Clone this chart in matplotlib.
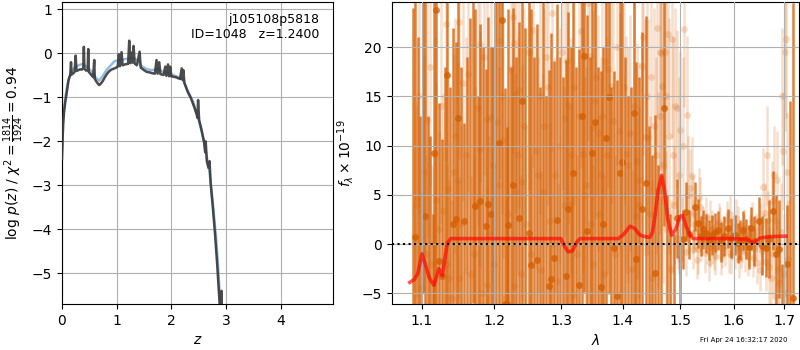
import matplotlib
matplotlib.use("Agg")
import matplotlib.pyplot as plt
from matplotlib.ticker import FixedLocator, FixedFormatter, NullLocator

# ---------------- left panel: log p(z) ----------------
z_pz = [0.00, 0.02, 0.04, 0.06, 0.08, 0.10, 0.12, 0.14, 0.15, 0.165, 0.175, 0.20, 0.23, 0.25, 0.265,
        0.30, 0.33, 0.36, 0.39, 0.40, 0.41, 0.44, 0.47, 0.48, 0.49, 0.53, 0.57, 0.59, 0.60, 0.64,
        0.68, 0.70, 0.74, 0.78, 0.82, 0.86, 0.90, 0.94, 0.98, 1.02, 1.04, 1.06, 1.09, 1.11, 1.15,
        1.19, 1.21, 1.23, 1.25, 1.27, 1.29, 1.31, 1.33, 1.37, 1.42, 1.44, 1.50, 1.55, 1.60, 1.65,
        1.70, 1.73, 1.75, 1.78, 1.80, 1.86, 1.89, 1.91, 1.94, 1.96, 1.98, 2.00, 2.04, 2.08, 2.12,
        2.16, 2.19, 2.21, 2.22, 2.24, 2.30, 2.36, 2.42, 2.46, 2.48, 2.49, 2.51, 2.55, 2.60, 2.62,
        2.63, 2.65, 2.68, 2.70, 2.72, 2.76, 2.80, 2.84, 2.88, 2.90, 2.92, 2.93]
logpz = [-2.4, -1.6, -1.3, -1.1, -0.95, -0.78, -0.6, -0.53, -0.5, -0.2, -0.48, -0.46, -0.42, -0.05, -0.4,
         -0.38, -0.36, -0.37, -0.33, 0.15, -0.35, -0.39, -0.38, 0.1, -0.42, -0.48, -0.54, -0.15, -0.58, -0.66,
         -0.72, -0.7, -0.64, -0.55, -0.47, -0.41, -0.37, -0.35, -0.33, -0.3, -0.02, -0.29, 0.03, -0.27, -0.25,
         -0.24, -0.24, 0.29, -0.22, 0.02, -0.21, 0.17, -0.23, -0.27, 0.04, -0.32, -0.38, -0.42, -0.43, -0.45,
         -0.46, -0.15, -0.46, -0.2, -0.47, -0.49, -0.3, -0.51, -0.25, -0.52, -0.3, -0.52, -0.53, -0.54, -0.56,
         -0.58, -0.34, -0.6, -0.38, -0.67, -0.87, -1.02, -1.22, -1.37, -1.47, -1.06, -1.52, -1.72, -2.02, -2.25,
         -2.0, -2.45, -2.6, -2.45, -2.95, -3.5, -4.1, -4.8, -5.6, -6.0, -5.4, -6.5]

z_smooth = [0.00, 0.03, 0.06, 0.10, 0.15, 0.20, 0.30, 0.38, 0.45, 0.55, 0.62, 0.68, 0.74, 0.82, 0.90,
            0.96, 1.00, 1.10, 1.20, 1.30, 1.38, 1.45, 1.55, 1.65, 1.75, 1.85, 1.95, 2.05, 2.15, 2.22,
            2.30, 2.40, 2.50, 2.60, 2.70, 2.76, 2.82, 2.86, 2.90]
logpz_smooth = [-2.2, -1.4, -1.0, -0.7, -0.48, -0.36, -0.27, -0.24, -0.3, -0.42, -0.55, -0.62, -0.52, -0.37, -0.26,
                -0.18, -0.16, -0.14, -0.12, -0.1, -0.15, -0.28, -0.36, -0.38, -0.35, -0.42, -0.45, -0.5, -0.55, -0.62,
                -0.85, -1.1, -1.5, -2.0, -2.7, -3.4, -4.2, -4.9, -5.8]

id_text = "j105108p5818\nID=1048   z=1.2400"
ylabel_left = r"log $p(z)$ / $\chi^2=\frac{1814}{1924}=0.94$"

# ---------------- right panel: spectrum ----------------
# combined (dark) spectrum
wave_dark = [1.0881, 1.0908, 1.0944, 1.0980, 1.1016, 1.1040, 1.1076, 1.1113, 1.1145, 1.1161, 1.1189, 1.1226,
             1.1266, 1.1303, 1.1340, 1.1377, 1.1413, 1.1454, 1.1489, 1.1531, 1.1573, 1.1610, 1.1649, 1.1691,
             1.1725, 1.1764, 1.1793, 1.1836, 1.1879, 1.1913, 1.1948, 1.1987, 1.2026, 1.2069, 1.2113, 1.2157,
             1.2184, 1.2202, 1.2237, 1.2273, 1.2318, 1.2362, 1.2398, 1.2443, 1.2507, 1.2542, 1.2579, 1.2624,
             1.2670, 1.2716, 1.2762, 1.2809, 1.2837, 1.2893, 1.2940, 1.2987, 1.3034, 1.3071, 1.3109, 1.3152,
             1.3186, 1.3234, 1.3282, 1.3330, 1.3359, 1.3407, 1.3456, 1.3495, 1.3544, 1.3593, 1.3632, 1.3672,
             1.3722, 1.3772, 1.3812, 1.3852, 1.3902, 1.3953, 1.3983, 1.4034, 1.4084, 1.4136, 1.4188, 1.4229,
             1.4280, 1.4332, 1.4405, 1.4457, 1.4510, 1.4552, 1.4605, 1.4658, 1.4711, 1.4764, 1.4818, 1.4883,
             1.4936, 1.5002, 1.5056, 1.5106, 1.5166, 1.5265, 1.5321, 1.5376, 1.5426, 1.5476, 1.5533, 1.5589,
             1.5646, 1.5703, 1.5759, 1.5817, 1.5897, 1.5955, 1.6013, 1.6071, 1.6118, 1.6176, 1.6235, 1.6294,
             1.6341, 1.6400, 1.6484, 1.6544, 1.6628, 1.6689, 1.6773, 1.6834, 1.6895, 1.6957, 1.7060, 1.7121,
             1.7169]
flux_dark = [-10, 0.7, -9, -12, 30, 2.85, -11, -10, -14, 9.2, 23.8, -1.7,
             -3.3, -12, 17.2, -10, 2.0, 2.5, 12.8, -10, 2.3, -11, -10, 28,
             3.9, -9, 4.4, -12, 1.8, 4.1, 3.05, -10, 30, 10.3, 22.8, -6.1,
             -6.1, 1.9, -12, 6.0, -9, 2.6, 14.5, -10, 1.1, -2.1, -11, -1.6,
             -12, 28, -10, -4.3, -3.6, -1.4, 2.4, -11, -10, -3.3, 3.6, -12,
             7.2, -10, -4.2, 13.0, 19.1, 1.3, -11, 9.3, 12.4, -10, -4.4, 2.0,
             10.8, 14.9, -10, -0.4, -5.3, 7.2, 8.3, -11, -10, -12, 13.3, -1.5,
             -11, 3.6, 6.2, -10, -9, -2.9, -10, -9, 13.8, -9, -8, -7,
             2.6, -7, 0.5, 3.3, 1.0, 3.8, 2.1, 0.8, 1.5, 1.1, 0.4, 0.9,
             1.2, 1.4, 0.2, 0.8, 1.6, 0.6, 0.9, 0.1, 0.4, 1.4, 0.5, -0.3,
             1.6, 0.3, 2.3, -0.2, -0.4, 0.5, 3.4, -1.0, -0.5, -8, -2.0, -10,
             -5.5]
err_dark = [34, 26, 30, 25, 35, 24, 24, 21, 17, 22, 30, 16,
            14, 30, 24, 26, 20, 18, 22, 28, 10, 30, 33, 34,
            20, 24, 18, 32, 16, 19, 17, 30, 38, 20, 30, 22,
            18, 22, 30, 18, 28, 20, 22, 32, 24, 26, 30, 24,
            28, 36, 25, 22, 25, 20, 22, 30, 27, 22, 20, 32,
            20, 28, 24, 22, 24, 22, 30, 18, 20, 28, 22, 18,
            20, 20, 26, 18, 22, 18, 18, 30, 25, 28, 20, 20,
            28, 18, 17, 22, 18, 16, 18, 16, 12, 14, 11, 8,
            4, 7, 3, 3, 2.5, 2.5, 2.5, 2, 2, 2, 2, 2,
            2, 2, 2, 2, 2, 2, 2, 2, 2, 2, 2, 2.2,
            2.2, 2.5, 2.5, 3, 3, 4, 4, 6, 5, 6, 6, 24.5,
            30]

# individual beam (light) spectra
wave_light = [1.0921, 1.0937, 1.1000, 1.1024, 1.1073, 1.1133, 1.1193, 1.1226, 1.1283, 1.1316, 1.1348, 1.1365,
              1.1406, 1.1431, 1.1481, 1.1498, 1.1506, 1.1556, 1.1623, 1.1665, 1.1708, 1.1767, 1.1793, 1.1801,
              1.1827, 1.1887, 1.1896, 1.1948, 1.2000, 1.2044, 1.2069, 1.2087, 1.2131, 1.2175, 1.2237, 1.2264,
              1.2282, 1.2291, 1.2300, 1.2309, 1.2362, 1.2385, 1.2407, 1.2461, 1.2506, 1.2570, 1.2615, 1.2670,
              1.2698, 1.2716, 1.2762, 1.2828, 1.2865, 1.2911, 1.2958, 1.3014, 1.3062, 1.3090, 1.3109, 1.3138,
              1.3186, 1.3205, 1.3253, 1.3321, 1.3349, 1.3378, 1.3427, 1.3456, 1.3505, 1.3515, 1.3534, 1.3593,
              1.3613, 1.3652, 1.3682, 1.3712, 1.3762, 1.3812, 1.3832, 1.3872, 1.3953, 1.4003, 1.4064, 1.4115,
              1.4156, 1.4229, 1.4239, 1.4280, 1.4322, 1.4374, 1.4436, 1.4468, 1.4510, 1.4573, 1.4605, 1.4637,
              1.4668, 1.4679, 1.4722, 1.4754, 1.4785, 1.4829, 1.4861, 1.4894, 1.4936, 1.4957, 1.4991, 1.5002,
              1.5034, 1.5079, 1.5101, 1.5122, 1.5144, 1.5188, 1.5210, 1.5243, 1.5276, 1.5309, 1.5343, 1.5354,
              1.5387, 1.5421, 1.5454, 1.5488, 1.5521, 1.5544, 1.5555, 1.5589, 1.5622, 1.5668, 1.5714, 1.5748,
              1.5794, 1.5840, 1.5874, 1.5920, 1.5955, 1.5990, 1.6025, 1.6071, 1.6106, 1.6153, 1.6188, 1.6223,
              1.6270, 1.6318, 1.6353, 1.6389, 1.6425, 1.6461, 1.6508, 1.6544, 1.6568, 1.6604, 1.6628, 1.6665,
              1.6689, 1.6725, 1.6749, 1.6785, 1.6821, 1.6858, 1.6895, 1.6932, 1.6969, 1.7000, 1.7012, 1.7036,
              1.7048, 1.7073,
              1.0960, 1.1050, 1.1110, 1.1170, 1.1250, 1.1330, 1.1440, 1.1530, 1.1600, 1.1730, 1.1850, 1.1920,
              1.1980, 1.2110, 1.2200, 1.2340, 1.2430, 1.2540, 1.2640, 1.2740, 1.2800, 1.2880, 1.2980, 1.3050,
              1.3160, 1.3290, 1.3400, 1.3470, 1.3560, 1.3640, 1.3740, 1.3900, 1.4030, 1.4090, 1.4190, 1.4270,
              1.4340, 1.4410, 1.4480, 1.4540, 1.4590, 1.4650, 1.4700, 1.4740, 1.4800, 1.4870, 1.4910, 1.4980,
              1.5050, 1.5150, 1.5230, 1.5260, 1.5330, 1.5400, 1.5470, 1.5600, 1.5650, 1.5730, 1.5770, 1.5860,
              1.5900, 1.5970, 1.6050, 1.6130, 1.6200, 1.6290, 1.6370, 1.6440, 1.6520, 1.6580, 1.6650, 1.6770,
              1.6880, 1.6950, 1.7020]
flux_light = [4.0, 4.65, -4.5, 7.3, 12.6, -2.0, 4.5, 1.5, 3.4, 22.4, 5.6, -3.5,
              -5.5, 7.3, 6.5, -3.5, 22.6, 16.4, 17.3, -3.1, -1.0, 13.8, 9.7, 20.3,
              -5.0, 12.7, -4.2, 12.9, -2.0, 12.4, 6.0, 20.6, 10.6, -5.5, 17.8, 23.1,
              20.4, -4.3, 5.3, 15.2, 15.7, -3.0, 6.3, 2.0, 19.5, 21.8, 9.5, 15.0,
              -2.6, 5.3, 19.0, 2.3, 23.5, 7.0, -3.8, 19.5, 12.8, 18.6, 14.1, 4.0,
              -5.2, 16.0, -1.0, 21.7, 9.1, 5.0, 24.5, 19.1, 11.8, -2.0, 14.5, 11.3,
              3.0, 13.0, -3.0, 18.6, 17.8, 16.1, 12.5, -1.0, 11.5, 5.0, 9.1, 11.3,
              -2.5, 2.8, 8.4, 6.5, 18.1, 10.9, 10.9, 3.0, -3.5, 9.0, 5.5, 19.5,
              19.4, 16.1, 19.5, 1.5, 21.3, -2.5, 20.8, 4.0, 13.8, 0.5, -1.5, 11.6,
              1.8, 21.9, -0.8, 13.1, 2.5, 5.7, 6.9, -0.5, 1.2, -1.6, 4.7, 3.8,
              0.3, 1.9, -0.9, 0.9, -1.8, 2.5, -0.3, 1.5, -0.6, 0.4, 2.2, -1.2,
              0.7, -0.2, 1.3, 3.0, -1.1, 0.8, -0.5, 1.9, -1.5, 0.2, 1.1, -0.8,
              -1.3, 0.9, 2.3, -0.4, 0.6, -1.9, 1.7, -0.7, 5.8, 3.2, -1.8, 2.4,
              -2.3, -3.5, 4.4, 7.0, -5.3, 6.5, -4.0, 1.2, 9.5, -3.0, 19.5, 20.8,
              7.3, -1.5,
              15, -1, 18, 9, 14, -2, 11, 2, 9, 4, 19, 1,
              8, 15, 3, 9, 12, -1, 7, 12, 16, 0, 10, 4,
              9, 13, 6, 2, 17, 7, 9, 20, 16, 8, 14, 4,
              21, 15, 17, 12, 22, 13, 8, 15, 11, 9, 14, 7,
              10, 5, 3, 2.0, -0.5, 1.0, 2.8, 0.0, -1.2, 1.8, -0.4, 2.4,
              -0.9, 0.4, 2.6, -0.4, 1.6, -0.1, -1.4, 1.2, -2.6, 0.5, 9.0, -1.0,
              -2.5, 15, -5.0]
err_light = [10, 10, 10, 12, 12, 10, 12, 10, 12, 14, 12, 10,
             10, 12, 12, 10, 14, 12, 12, 10, 10, 12, 12, 14,
             10, 12, 10, 12, 10, 12, 12, 14, 12, 10, 12, 14,
             14, 10, 12, 12, 12, 10, 12, 10, 14, 14, 12, 12,
             10, 12, 14, 10, 14, 12, 10, 14, 12, 14, 12, 10,
             10, 12, 10, 14, 12, 12, 14, 14, 12, 10, 12, 12,
             10, 12, 10, 14, 12, 12, 12, 10, 12, 12, 12, 12,
             10, 10, 12, 12, 14, 12, 12, 10, 10, 10, 10, 12,
             12, 12, 12, 8, 10, 7, 10, 6, 8, 3, 3, 8,
             3, 8, 2.5, 8, 2.5, 4, 4, 2, 2, 2, 3, 3,
             2, 2, 2, 2, 2, 2, 2, 2, 2, 2, 2, 2,
             2, 2, 2, 2, 2, 2, 2, 2, 2, 2, 2, 2,
             2, 2, 2, 2, 2.2, 2.2, 2.5, 2.5, 4, 3, 3, 3,
             4, 4, 4, 5, 5, 5, 5, 5, 6, 6, 8, 8,
             6, 6,
             12, 10, 12, 12, 12, 10, 12, 10, 12, 12, 12, 10,
             12, 12, 12, 12, 12, 10, 12, 12, 12, 10, 12, 12,
             12, 12, 12, 10, 12, 12, 12, 12, 12, 12, 12, 10,
             12, 12, 12, 12, 12, 12, 12, 12, 12, 12, 10, 10,
             9, 6, 4, 2.5, 2.5, 2, 2, 2, 2, 2, 2, 2,
             2, 2, 2, 2, 2, 2, 2, 2, 2.2, 2.5, 5, 4,
             5, 7, 6]

# best-fit model
wave_model = [1.0840, 1.0900, 1.0945, 1.1000, 1.1050, 1.1100, 1.1160, 1.1226, 1.1272, 1.1340, 1.1386,
              1.2000, 1.2600, 1.3000, 1.3050, 1.3114, 1.3180, 1.3250, 1.3299, 1.3600, 1.3926, 1.4020,
              1.4123, 1.4200, 1.4293, 1.4380, 1.4466, 1.4510, 1.4553, 1.4610, 1.4671, 1.4720, 1.4780,
              1.4849, 1.4920, 1.4998, 1.5050, 1.5110, 1.5179, 1.5239, 1.5800, 1.6249, 1.6379, 1.6511,
              1.6700, 1.7035]
flux_model = [-3.9, -3.6, -3.0, -1.0, -2.2, -3.5, -4.2, -2.5, -3.2, 0.1, 0.55,
              0.55, 0.55, 0.55, -0.2, -0.8, -0.7, 0.2, 0.55, 0.55, 0.55, 1.0,
              1.8, 1.6, 0.9, 0.75, 0.68, 1.2, 2.8, 5.5, 7.0, 5.5, 2.5,
              0.9, 1.5, 2.8, 2.9, 1.8, 0.9, 0.55, 0.55, 0.5, 0.13, 0.6,
              0.75, 0.8]

wave_ticks = [1.1, 1.2, 1.3, 1.4, 1.5, 1.6, 1.7]
timestamp = "Fri Apr 24 16:32:17 2020"

grism_color = (0.835, 0.369, 0.0)

fig = plt.figure(figsize=(8, 3.5), dpi=100)
axl = fig.add_axes([0.0775, 0.1314, 0.3388, 0.8629])
axr = fig.add_axes([0.4896, 0.1314, 0.5088, 0.8629])

# left
axl.plot(z_smooth, logpz_smooth, color='#7fb2dc', lw=1.8, alpha=0.85, zorder=2)
axl.plot(z_pz, logpz, color='0.22', lw=1.8, alpha=0.9, zorder=3)
axl.set_xlim(0, 4.96)
axl.set_ylim(-5.70, 1.17)
axl.set_xticks([0, 1, 2, 3, 4])
axl.set_yticks([-5, -4, -3, -2, -1, 0, 1])
axl.grid(True)
axl.set_axisbelow(True)
axl.set_xlabel(r"$z$")
axl.set_ylabel(ylabel_left)
axl.text(0.948, 0.965, id_text, ha='right', va='top', transform=axl.transAxes, fontsize=9)

# right
axr.errorbar(wave_light, flux_light, yerr=err_light, fmt='o', ms=5, mew=0,
             color=grism_color, ecolor=grism_color, alpha=0.2, elinewidth=1.8, capsize=0, zorder=1)
axr.errorbar(wave_dark, flux_dark, yerr=err_dark, fmt='o', ms=5, mew=0,
             color=grism_color, ecolor=grism_color, alpha=0.78, elinewidth=1.8, capsize=0, zorder=1.5)
axr.plot(wave_model, flux_model, color='r', lw=2.6, alpha=0.65, zorder=3)
axr.axhline(0, color='k', ls=':', lw=1.5, zorder=4)
axr.set_xscale('log')
axr.set_xlim(1.0607, 1.7297)
axr.set_ylim(-6.1, 24.6)
axr.xaxis.set_major_locator(FixedLocator(wave_ticks))
axr.xaxis.set_major_formatter(FixedFormatter([f"{t:.1f}" for t in wave_ticks]))
axr.xaxis.set_minor_locator(NullLocator())
axr.set_yticks([-5, 0, 5, 10, 15, 20])
axr.grid(True)
axr.set_axisbelow(False)
axr.set_xlabel(r"$\lambda$")
axr.set_ylabel(r"$f_\lambda\times10^{-19}$")

fig.text(0.985, 0.02, timestamp, ha='right', va='bottom', fontsize=5)

fig.savefig("out.png", dpi=100)
